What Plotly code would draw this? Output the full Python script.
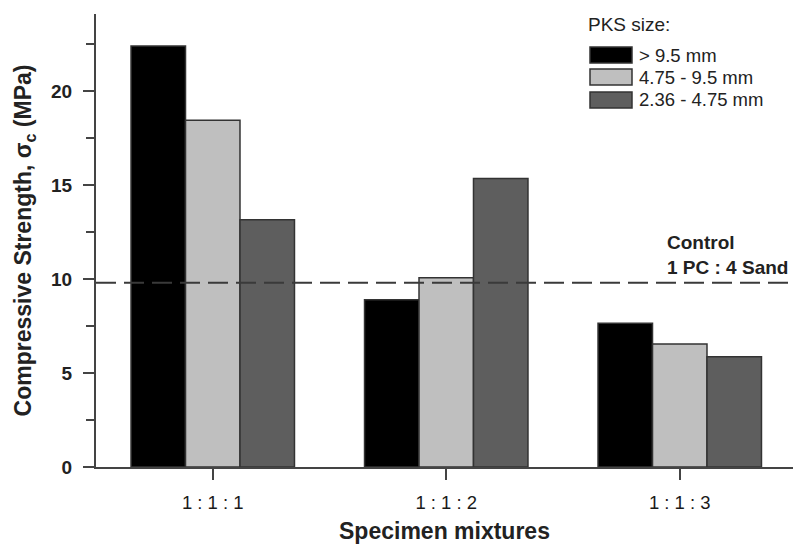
import plotly.graph_objects as go

# ---- data ----
categories = ["1 : 1 : 1", "1 : 1 : 2", "1 : 1 : 3"]
series_names = ["> 9.5 mm", "4.75 - 9.5 mm", "2.36 - 4.75 mm"]
vals_large = [22.4, 8.9, 7.65]
vals_medium = [18.45, 10.07, 6.55]
vals_small = [13.15, 15.35, 5.87]
control_value = 9.8
y_tickvals = [0, 5, 10, 15, 20]
legend_title = "PKS size:"
control_text = "Control<br>1 PC : 4 Sand"

colors = ["#000000", "#bfbfbf", "#5e5e5e"]
series_values = [vals_large, vals_medium, vals_small]

FONT = "Arial, Liberation Sans, sans-serif"
W, H = 793, 544
ML, MR, MT, MB = 96, 0, 14, 77

fig = go.Figure()
for name, vals, col in zip(series_names, series_values, colors):
    fig.add_trace(go.Bar(
        x=categories, y=vals, name=name,
        marker=dict(color=col, line=dict(color="#333333", width=1.5)),
        showlegend=False,
    ))

# control dashed line
fig.add_shape(type="line", xref="paper", yref="y", x0=0, x1=1,
              y0=control_value, y1=control_value,
              line=dict(color="#3a3a3a", width=2, dash="20px,8px"))

pw = W - ML - MR
ph = H - MT - MB


def px_to_paper_x(px):
    return (px - ML) / pw


def px_to_paper_y(py):
    return (H - MB - py) / ph


# control annotation
fig.add_annotation(xref="paper", yref="y", x=px_to_paper_x(665),
                   y=control_value, yshift=3,
                   xanchor="left", yanchor="bottom", align="left",
                   text=control_text, showarrow=False,
                   font=dict(family=FONT, size=19, color="#222222", weight="bold"))

# custom legend
fig.add_annotation(xref="paper", yref="paper", x=px_to_paper_x(586),
                   y=px_to_paper_y(24), xanchor="left", yanchor="middle",
                   text=legend_title, showarrow=False,
                   font=dict(family=FONT, size=19, color="#222222"))
row_centers = [55, 77, 100]
for name, col, yc in zip(series_names, colors, row_centers):
    fig.add_shape(type="rect", xref="paper", yref="paper",
                  x0=px_to_paper_x(590), x1=px_to_paper_x(632),
                  y0=px_to_paper_y(yc + 8), y1=px_to_paper_y(yc - 8),
                  fillcolor=col, line=dict(color="#333333", width=1.5))
    fig.add_annotation(xref="paper", yref="paper", x=px_to_paper_x(637),
                       y=px_to_paper_y(yc), xanchor="left", yanchor="middle",
                       text=name, showarrow=False,
                       font=dict(family=FONT, size=18.5, color="#222222"))

fig.update_layout(
    width=W, height=H,
    margin=dict(l=ML, r=MR, t=MT, b=MB, pad=0),
    paper_bgcolor="white", plot_bgcolor="white",
    barmode="group", bargap=0.3, bargroupgap=0,
    font=dict(family=FONT, color="#222222"),
)

fig.update_xaxes(
    type="category",
    range=[-0.5, 2.485],
    showline=True, linecolor="#444444", linewidth=2,
    ticks="outside", ticklen=11, tickwidth=2, tickcolor="#444444",
    tickfont=dict(family=FONT, size=18.5, color="#1a1a1a"),
    ticklabelstandoff=7,
    showgrid=False, zeroline=False,
    title=dict(text="Specimen mixtures",
               font=dict(family=FONT, size=23, color="#222222", weight="bold"),
               standoff=19),
    automargin=False,
)
fig.update_yaxes(
    range=[0, 24.1],
    tickvals=y_tickvals,
    showline=True, linecolor="#444444", linewidth=2,
    ticks="outside", ticklen=11, tickwidth=2, tickcolor="#444444",
    minor=dict(dtick=2.5, ticks="outside", ticklen=8, tickwidth=2, tickcolor="#444444",
               showgrid=False),
    tickfont=dict(family=FONT, size=19, color="#222222", weight="bold"),
    ticklabelstandoff=7,
    showgrid=False, zeroline=False,
    title=dict(text="Compressive Strength, σ<sub>c</sub> (MPa)",
               font=dict(family=FONT, size=23, color="#222222", weight="bold"),
               standoff=13),
    automargin=False,
)

fig.write_html("out.html")
